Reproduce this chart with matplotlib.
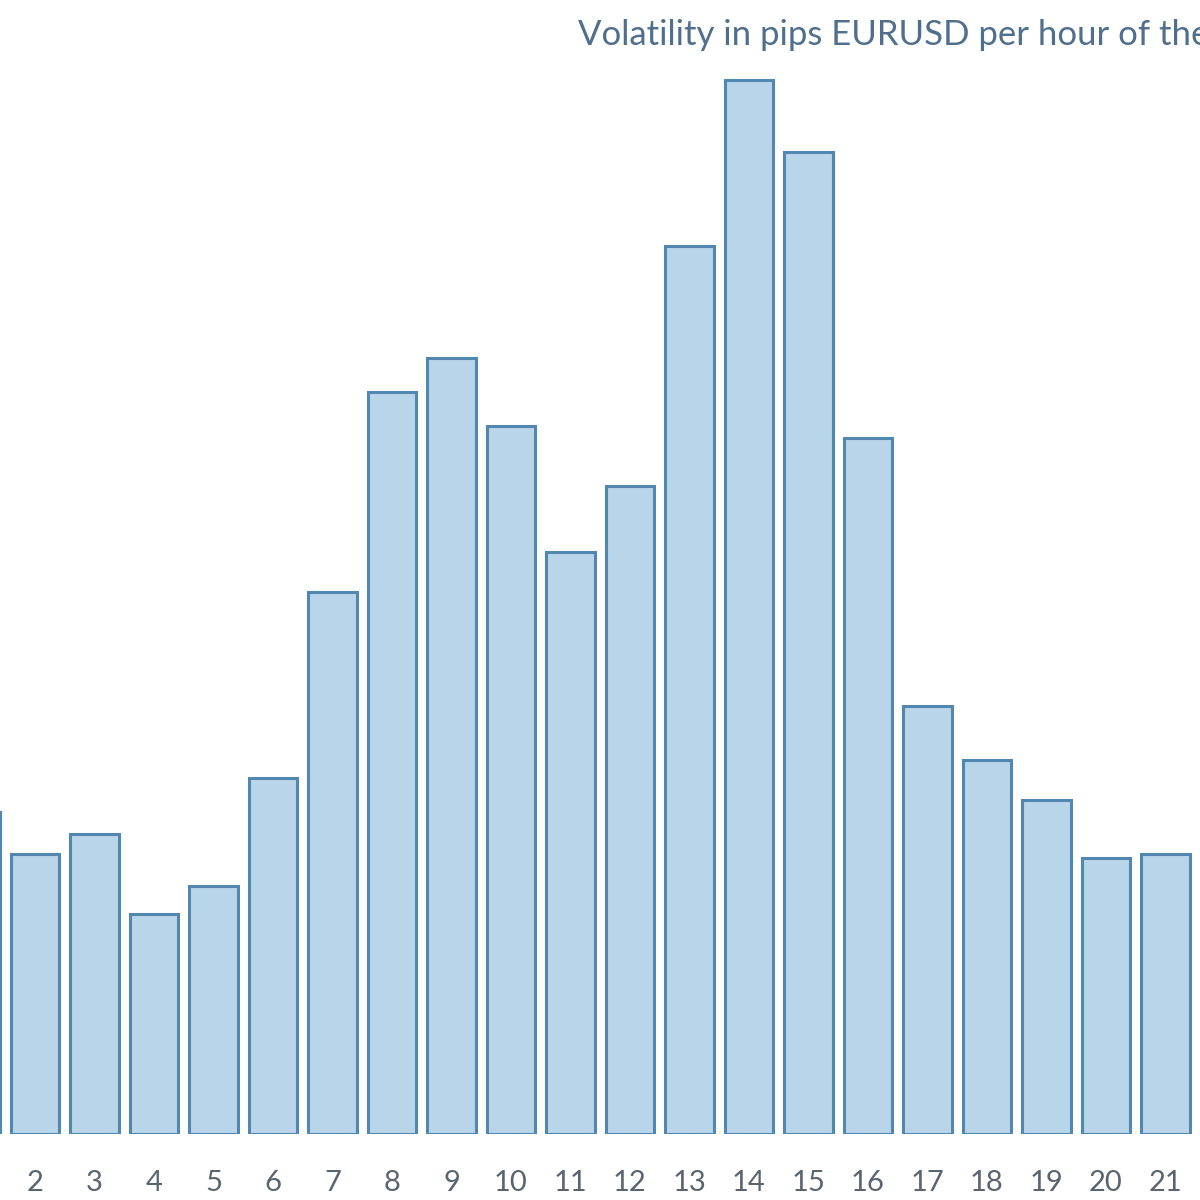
import matplotlib
matplotlib.use('Agg')
import matplotlib.pyplot as plt

# hours of the day and volatility (pips)
hours = list(range(1, 22))
pips = [8.05, 7.0, 7.5, 5.5, 6.2, 8.9, 13.55, 18.55, 19.4, 17.7, 14.55,
        16.2, 22.2, 26.35, 24.55, 17.4, 10.7, 9.35, 8.35, 6.9, 7.0]
tick_labels = [str(h) for h in hours]
title = 'Volatility in pips EURUSD per hour of the day'

plt.rcParams['font.family'] = ['Lato', 'DejaVu Sans']

fig = plt.figure(figsize=(12, 12), dpi=100)
ax = fig.add_axes([0, 0.055, 1, 0.945])

ax.bar(hours, pips, width=0.82, color='#b9d5ea', edgecolor='#5287b0', linewidth=2.2)

ax.set_xticks(hours)
ax.set_xticklabels(tick_labels, fontsize=21, color='#5a6470')
ax.tick_params(axis='x', length=0, pad=26)
ax.set_yticks([])
# limits after the ticks, the chart is cut off on both sides
ax.set_xlim(1.412, 21.58)
ax.set_ylim(0, 28.35)
for s in ax.spines.values():
    s.set_visible(False)

fig.text(578 / 1200, 1 - 35 / 1200, title, fontsize=25, color='#4f6f8c',
         ha='left', va='center')

fig.savefig('out.png', dpi=100)
